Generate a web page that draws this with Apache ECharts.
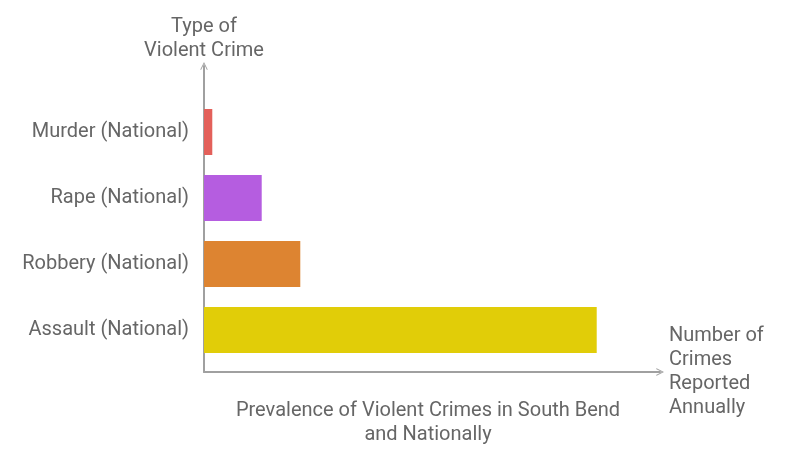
<!DOCTYPE html>
<html>
<head>
<meta charset="utf-8">
<script src="https://cdn.jsdelivr.net/npm/echarts@6/dist/echarts.min.js"></script>
<style>
  html, body { margin: 0; padding: 0; background: #fff; }
  #chart { width: 786px; height: 456px; }
</style>
</head>
<body>
<div id="chart"></div>
<script>
// data (no tick labels, so the scale is an estimate)
const categories = ["Assault (National)", "Robbery (National)", "Rape (National)", "Murder (National)"];
const crimeValues = [274.9, 67.4, 40.4, 5.8];
const barColors = ["#e1cd08", "#dd8431", "#b55de0", "#e3605a"];
const xMax = 319.2;

const axisGrey = "#a0a0a0";
const textGrey = "#666666";
const font = "Roboto";
// open chevron used as the arrow head
const chevron = "path://M0,10 L5,0 L10,10 L9,10.8 L5,2.8 L1,10.8 Z";

let myChart = echarts.init(document.getElementById("chart"));
myChart.setOption({
  animation: false,
  textStyle: { fontFamily: font },
  title: {
    text: "Prevalence of Violent Crimes in South Bend\nand Nationally",
    left: 423,
    top: 394,
    textAlign: "center",
    textStyle: {
      fontSize: 20,
      fontWeight: "normal",
      color: textGrey,
      lineHeight: 24,
      fontFamily: font,
    },
  },
  grid: [
    // bars
    { left: 204, right: 126, top: 99, bottom: 93 },
    // axis lines with arrows
    { left: 204, right: 126, top: 66, bottom: 84 },
  ],
  xAxis: [
    {
      gridIndex: 0,
      type: "value",
      min: 0,
      max: xMax,
      show: false,
    },
    {
      gridIndex: 1,
      type: "value",
      min: 0,
      max: 1,
      axisLine: {
        show: true,
        lineStyle: { color: axisGrey, width: 2 },
        symbol: ["none", chevron],
        symbolSize: [12, 8],
        symbolOffset: [0, 0],
      },
      axisTick: { show: false },
      axisLabel: { show: false },
      splitLine: { show: false },
      name: "Number of\nCrimes\nReported\nAnnually",
      nameLocation: "end",
      nameGap: 9,
      nameTextStyle: {
        fontSize: 20,
        color: textGrey,
        lineHeight: 24,
        align: "left",
        verticalAlign: "middle",
        padding: [4, 0, 0, 0],
        fontFamily: font,
      },
    },
  ],
  yAxis: [
    {
      gridIndex: 0,
      type: "category",
      data: categories,
      axisLine: { show: false },
      axisTick: { show: false },
      axisLabel: {
        margin: 15,
        fontSize: 20,
        color: textGrey,
        padding: [4, 0, 0, 0],
        fontFamily: font,
      },
    },
    {
      gridIndex: 1,
      type: "value",
      min: 0,
      max: 1,
      axisLine: {
        show: true,
        lineStyle: { color: axisGrey, width: 2 },
        symbol: ["none", chevron],
        symbolSize: [12, 8],
        symbolOffset: [0, 0],
      },
      axisTick: { show: false },
      axisLabel: { show: false },
      splitLine: { show: false },
      name: "Type of\nViolent Crime",
      nameLocation: "end",
      nameGap: 3,
      nameTextStyle: {
        fontSize: 20,
        color: textGrey,
        lineHeight: 24,
        align: "center",
        verticalAlign: "bottom",
        fontFamily: font,
      },
    },
  ],
  series: [
    {
      type: "bar",
      xAxisIndex: 0,
      yAxisIndex: 0,
      barWidth: 46,
      data: crimeValues.map((v, i) => ({
        value: v,
        itemStyle: { color: barColors[i] },
      })),
    },
  ],
});
</script>
</body>
</html>
